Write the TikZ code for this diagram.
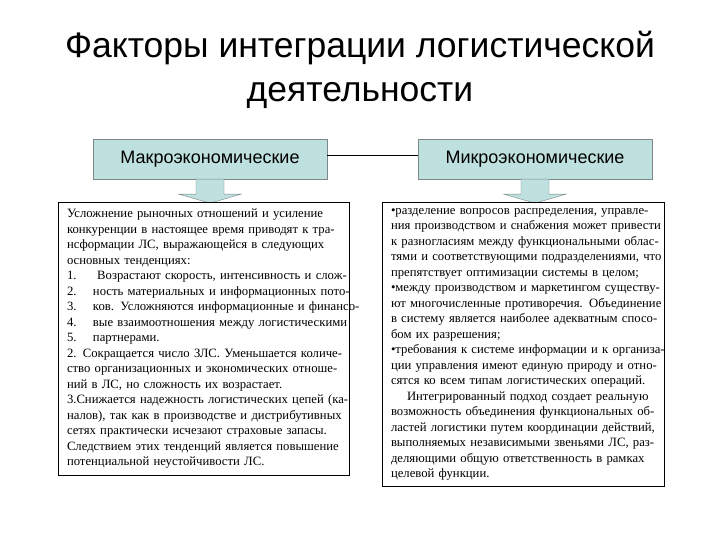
\documentclass[tikz,border=0pt]{standalone}
\usepackage{fontspec}
\setmainfont{Liberation Serif}
\newfontfamily\arialfont{Liberation Sans}
\usetikzlibrary{positioning,calc}

\definecolor{factorfill}{RGB}{190,224,222}
\definecolor{factordraw}{RGB}{125,135,135}

\begin{document}
\begin{tikzpicture}[
  x=1pt, y=-1pt,
  title/.style={font=\arialfont\fontsize{35.5}{44}\selectfont, align=center},
  factor/.style={rectangle, draw=factordraw, fill=factorfill,
                 minimum width=234pt, minimum height=40pt,
                 font=\arialfont\fontsize{18}{20}\selectfont},
  txtbox/.style={rectangle, draw=black, fill=white, align=left,
                 inner xsep=9pt, inner ysep=6pt,
                 font=\fontsize{12.7}{15.5}\selectfont},
  blockarr/.style={draw=factordraw, fill=factorfill},
  link/.style={draw=black}
]
\useasboundingbox (0,0) rectangle (720,540);

\node[title] (title) at (360,70) {Факторы интеграции логистической\\деятельности};

\node[factor] (mac) at (210,159) {Макроэкономические};
\node[factor] (mic) at (535,159) {Микроэкономические};
\draw[link] ([yshift=4pt]mac.east) -- ([yshift=4pt]mic.west);

% block arrows
\filldraw[blockarr] ($(mac.south)+(-14,0)$) -- ++(0,15) -- ++(-17,0) -- ++(31,9)
  -- ++(31,-9) -- ++(-17,0) -- ++(0,-15) -- cycle;
\filldraw[blockarr] ($(mic.south)+(-14,0)$) -- ++(0,15) -- ++(-17,0) -- ++(31,9)
  -- ++(31,-9) -- ++(-17,0) -- ++(0,-15) -- cycle;

\node[txtbox, text width=273pt, minimum height=273pt, below=23pt of mac, xshift=-6.5pt] (mactxt) {%
\mbox{Усложнение рыночных отношений и усиление}\\
\mbox{конкуренции в настоящее время приводят к тра-}\\
\mbox{нсформации ЛС, выражающейся в следующих}\\
\mbox{основных тенденциях:}\\
\mbox{\makebox[26pt][l]{1.}\ Возрастают скорость, интенсивность и слож-}\\
\mbox{\makebox[26pt][l]{2.}ность материальных и информационных пото-}\\
\mbox{\makebox[26pt][l]{3.}ков. Усложняются информационные и финансо-}\\
\mbox{\makebox[26pt][l]{4.}вые взаимоотношения между логистическими}\\
\mbox{\makebox[26pt][l]{5.}партнерами.}\\
\mbox{2. Сокращается число ЗЛС. Уменьшается количе-}\\
\mbox{ство организационных и экономических отноше-}\\
\mbox{ний в ЛС, но сложность их возрастает.}\\
\mbox{3.Снижается надежность логистических цепей (ка-}\\
\mbox{налов), так как в производстве и дистрибутивных}\\
\mbox{сетях практически исчезают страховые запасы.}\\
\mbox{Следствием этих тенденций является повышение}\\
\mbox{потенциальной неустойчивости ЛС.}};

\node[txtbox, text width=264pt, minimum height=275pt, below=23pt of mic, xshift=-12pt] (mictxt) {%
\mbox{•разделение вопросов распределения, управле-}\\
\mbox{ния производством и снабжения может привести}\\
\mbox{к разногласиям между функциональными облас-}\\
\mbox{тями и соответствующими подразделениями, что}\\
\mbox{препятствует оптимизации системы в целом;}\\
\mbox{•между производством и маркетингом существу-}\\
\mbox{ют многочисленные противоречия. Объединение}\\
\mbox{в систему является наиболее адекватным спосо-}\\
\mbox{бом их разрешения;}\\
\mbox{•требования к системе информации и к организа-}\\
\mbox{ции управления имеют единую природу и отно-}\\
\mbox{сятся ко всем типам логистических операций.}\\
\mbox{\hspace*{16pt}Интегрированный подход создает реальную}\\
\mbox{возможность объединения функциональных об-}\\
\mbox{ластей логистики путем координации действий,}\\
\mbox{выполняемых независимыми звеньями ЛС, раз-}\\
\mbox{деляющими общую ответственность в рамках}\\
\mbox{целевой функции.}};

\end{tikzpicture}
\end{document}
